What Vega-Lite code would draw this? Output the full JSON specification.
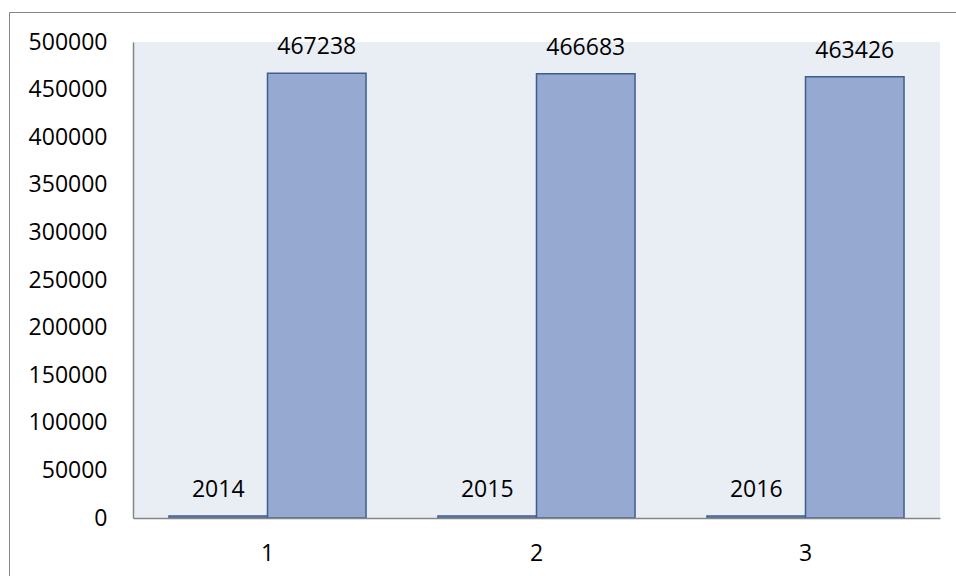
{
  "$schema": "https://vega.github.io/schema/vega-lite/v6.json",
  "width": 948,
  "height": 565,
  "autosize": {"type": "none"},
  "padding": {"left": 9, "top": 12, "right": -1, "bottom": -1},
  "config": {
    "font": "Open Sans",
    "view": {"stroke": "#868686", "strokeWidth": 1, "fill": "#ffffff"}
  },
  "data": {
    "values": [
      {"cat": "1", "series": "year", "v": 2014},
      {"cat": "1", "series": "value", "v": 467238},
      {"cat": "2", "series": "year", "v": 2015},
      {"cat": "2", "series": "value", "v": 466683},
      {"cat": "3", "series": "year", "v": 2016},
      {"cat": "3", "series": "value", "v": 463426}
    ]
  },
  "encoding": {
    "x": {
      "field": "cat",
      "type": "ordinal",
      "scale": {"domain": ["1", "2", "3"], "range": [124, 931], "paddingInner": 0, "paddingOuter": 0},
      "axis": {
        "orient": "bottom",
        "offset": -59,
        "title": null,
        "ticks": false,
        "tickSize": 0,
        "labelAngle": 0,
        "labelPadding": 24,
        "labelFontSize": 23,
        "labelColor": "#000000",
        "domainColor": "#868686",
        "domainWidth": 1.5,
        "zindex": 1
      }
    }
  },
  "layer": [
    {
      "transform": [{"filter": "datum.series === 'value'"}],
      "mark": {"type": "rect", "fill": "#E9EDF4", "strokeWidth": 0},
      "encoding": {
        "y": {
          "datum": 0,
          "type": "quantitative",
          "scale": {"domain": [0, 500000], "range": [506, 30], "nice": false, "zero": true},
          "axis": {
            "orient": "left",
            "offset": -124,
            "title": null,
            "values": [0, 50000, 100000, 150000, 200000, 250000, 300000, 350000, 400000, 450000, 500000],
            "format": "d",
            "grid": false,
            "ticks": false,
            "tickSize": 0,
            "labelPadding": 26,
            "labelFontSize": 23,
            "labelColor": "#000000",
            "domainColor": "#868686",
            "domainWidth": 1.5,
            "zindex": 1
          }
        },
        "y2": {"datum": 500000}
      }
    },
    {
      "mark": {"type": "bar", "fill": "#95A9D1", "stroke": "#3F5E8E", "strokeWidth": 1.5},
      "encoding": {
        "xOffset": {
          "field": "series",
          "type": "nominal",
          "scale": {"domain": ["year", "value"], "paddingInner": 0, "paddingOuter": 0.365}
        },
        "y": {"field": "v", "type": "quantitative"}
      }
    },
    {
      "mark": {"type": "text", "baseline": "alphabetic", "dy": -19, "fontSize": 23, "color": "#000000"},
      "encoding": {
        "xOffset": {"field": "series", "type": "nominal"},
        "y": {"field": "v", "type": "quantitative"},
        "text": {"field": "v", "type": "quantitative", "format": "d"}
      }
    }
  ]
}
